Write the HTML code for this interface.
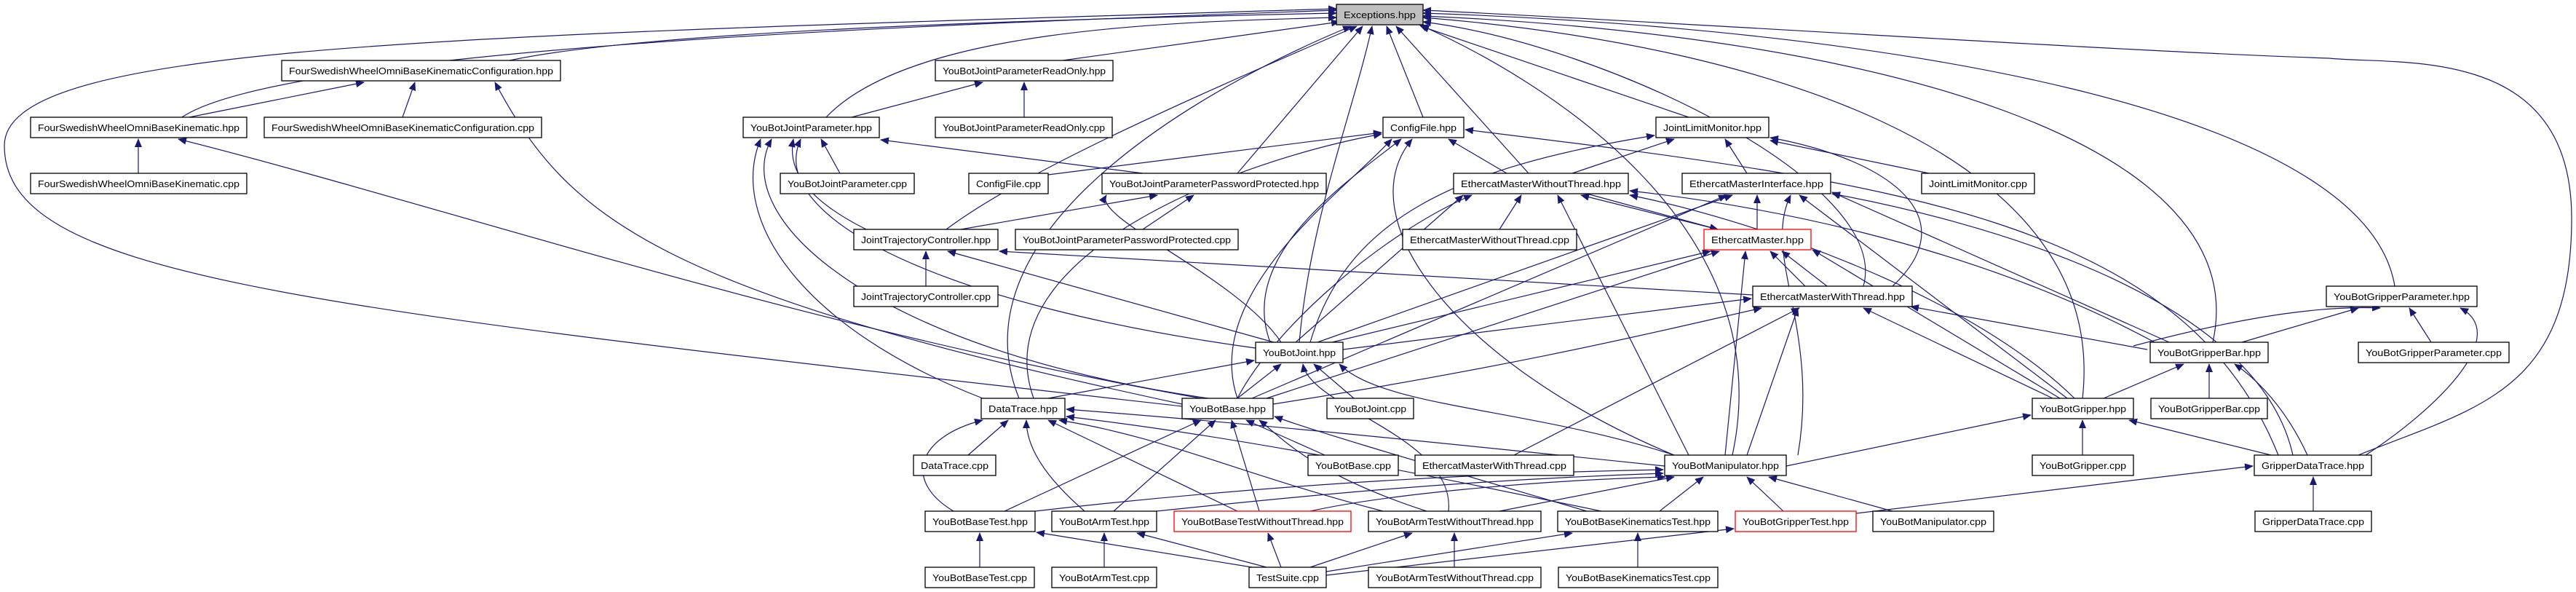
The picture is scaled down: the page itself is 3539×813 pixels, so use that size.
<!DOCTYPE html>
<html><head><meta charset="utf-8"><style>
html,body{margin:0;padding:0;background:#fff;}
svg{display:block}
text{font-family:"Liberation Sans",sans-serif;font-size:13px;fill:#000}
.e{fill:none;stroke:#191970;stroke-width:1.2;marker-end:url(#a)}
.n{fill:#fff;stroke:#000;stroke-width:1.3}
.r{fill:#fff;stroke:#f00;stroke-width:1.3}
</style></head><body>
<svg width="3539" height="813" viewBox="0 0 3539 813" xmlns="http://www.w3.org/2000/svg">
<defs><marker id="a" markerUnits="userSpaceOnUse" markerWidth="12" markerHeight="10" refX="11" refY="5" orient="auto"><path d="M0,0 L12,5 L0,10 z" fill="#191970"/></marker></defs>
<g>
<!-- to Exceptions -->
<path class="e" d="M700,83 C900,40 1500,25 1836,18"/>
<path class="e" d="M250,161 C400,60 1400,30 1836,14"/>
<path class="e" d="M1460,83 L1840,30"/>
<path class="e" d="M1135,161 C1250,40 1600,30 1836,24"/>
<path class="e" d="M1955,161 L1905,36"/>
<path class="e" d="M1700,238 L1872,36"/>
<path class="e" d="M1300,315 C1400,240 1600,150 1864,36"/>
<path class="e" d="M2100,238 L1918,36"/>
<path class="e" d="M2320,161 L1952,36"/>
<path class="e" d="M1785,470 C1800,300 1860,150 1885,36"/>
<path class="e" d="M1400,547 C1300,300 1700,100 1856,36"/>
<path class="e" d="M1624,558 C400,420 6,380 6,200 C6,60 600,50 1836,12"/>
<path class="e" d="M2560,393 C2600,250 2200,60 1955,30"/>
<path class="e" d="M2861,547 C2900,200 2400,60 1955,24"/>
<path class="e" d="M3040,470 C3100,200 2600,50 1955,22"/>
<path class="e" d="M3290,393 C3250,150 2600,40 1955,18"/>
<path class="e" d="M3240,625 C3400,560 3533,540 3533,300 C3533,60 3300,90 3200,80 C2900,70 2300,30 1955,14"/>
<path class="e" d="M2380,625 C2450,300 2100,100 1950,34"/>
<!-- FSW -->
<path class="e" d="M260,161 L500,113"/>
<path class="e" d="M553,161 L570,113"/>
<path class="e" d="M1624,555 C900,400 780,300 680,113"/>
<path class="e" d="M190,238 L190,191"/>
<path class="e" d="M1650,547 C1100,450 600,280 245,191"/>
<!-- ReadOnly / JointParameter -->
<path class="e" d="M1170,161 L1350,113"/>
<path class="e" d="M1407,161 L1407,113"/>
<path class="e" d="M1154,238 L1128,191"/>
<path class="e" d="M1570,238 L1210,192"/>
<path class="e" d="M1190,315 C1120,280 1080,240 1090,191"/>
<path class="e" d="M1725,478 C1300,420 1050,300 1100,191"/>
<path class="e" d="M1350,547 C1100,450 1000,300 1045,191"/>
<path class="e" d="M1660,547 C1200,480 1000,300 1060,191"/>
<!-- ConfigFile -->
<path class="e" d="M1440,240 L1898,182"/>
<path class="e" d="M2070,238 L1990,191"/>
<path class="e" d="M1745,470 C1700,350 1850,250 1925,191"/>
<path class="e" d="M1700,547 C1650,400 1850,260 1912,191"/>
<path class="e" d="M1420,547 C1350,350 1700,220 1898,184"/>
<path class="e" d="M2300,625 C2000,500 1850,300 1940,191"/>
<path class="e" d="M3130,625 C3000,300 2600,250 2013,178"/>
<!-- PasswordProtected -->
<path class="e" d="M1570,315 L1640,268"/>
<path class="e" d="M1320,315 L1590,268"/>
<path class="e" d="M1760,470 C1700,380 1500,300 1520,268"/>
<!-- JTC -->
<path class="e" d="M1272,393 L1272,345"/>
<path class="e" d="M1750,470 L1302,345"/>
<path class="e" d="M2408,405 L1373,345"/>
<!-- JointLimitMonitor -->
<path class="e" d="M2650,238 L2432,193"/>
<path class="e" d="M2160,238 L2300,191"/>
<path class="e" d="M2400,238 L2370,191"/>
<path class="e" d="M2600,393 C2700,300 2600,220 2432,189"/>
<path class="e" d="M1800,470 C1850,300 2000,230 2273,186"/>
<!-- EMWithoutThread -->
<path class="e" d="M2060,315 L2090,268"/>
<path class="e" d="M2360,315 L2172,268"/>
<path class="e" d="M1780,470 L2010,268"/>
<path class="e" d="M1700,547 C1750,450 1900,320 2022,268"/>
<path class="e" d="M2320,625 L2140,268"/>
<path class="e" d="M2850,547 C2700,400 2400,300 2239,268"/>
<path class="e" d="M2960,470 C2700,330 2400,280 2239,262"/>
<!-- EMInterface -->
<path class="e" d="M2414,315 L2414,268"/>
<path class="e" d="M1810,470 L2380,268"/>
<path class="e" d="M1720,547 L2372,268"/>
<path class="e" d="M2470,625 C2500,450 2420,350 2460,268"/>
<path class="e" d="M2840,547 L2472,268"/>
<path class="e" d="M2980,470 L2517,264"/>
<path class="e" d="M3150,625 C3100,400 2700,300 2517,266"/>
<!-- EthercatMaster -->
<path class="e" d="M2180,266 L2360,315"/>
<path class="e" d="M2480,393 L2432,345"/>
<path class="e" d="M2510,393 L2448,345"/>
<path class="e" d="M1830,470 L2350,345"/>
<path class="e" d="M1740,547 L2362,345"/>
<path class="e" d="M2370,625 L2398,345"/>
<path class="e" d="M2830,547 L2490,343"/>
<!-- EMWithThread -->
<path class="e" d="M1845,480 L2406,410"/>
<path class="e" d="M1749,555 C2100,500 2300,450 2420,423"/>
<path class="e" d="M2400,625 L2470,423"/>
<path class="e" d="M2080,625 L2472,423"/>
<path class="e" d="M2820,547 L2560,423"/>
<path class="e" d="M2950,480 L2625,421"/>
<!-- YouBotJoint -->
<path class="e" d="M1440,547 L1723,495"/>
<path class="e" d="M1700,547 L1760,500"/>
<path class="e" d="M1860,547 L1805,500"/>
<path class="e" d="M2300,625 C2100,560 1900,560 1840,500"/>
<path class="e" d="M1990,702 C2000,600 1800,560 1790,500"/>
<!-- Gripper parameter -->
<path class="e" d="M3080,470 L3240,423"/>
<path class="e" d="M3340,470 L3310,423"/>
<path class="e" d="M2931,475 C3100,430 3200,420 3270,423"/>
<path class="e" d="M3250,625 C3350,560 3450,460 3380,423"/>
<!-- GripperBar -->
<path class="e" d="M2890,547 L3000,500"/>
<path class="e" d="M3035,547 L3035,500"/>
<path class="e" d="M3170,625 C3140,560 3100,520 3070,500"/>
<!-- Gripper -->
<path class="e" d="M2861,625 L2861,577"/>
<path class="e" d="M3120,625 L2925,577"/>
<path class="e" d="M2454,640 L2790,570"/>
<!-- DataTrace -->
<path class="e" d="M1330,625 L1385,577"/>
<path class="e" d="M1310,702 C1240,660 1260,600 1350,577"/>
<path class="e" d="M1490,702 C1430,650 1410,610 1410,577"/>
<path class="e" d="M1700,702 L1440,577"/>
<path class="e" d="M1900,702 C1700,650 1600,600 1455,577"/>
<path class="e" d="M2200,702 C1900,640 1700,600 1465,572"/>
<path class="e" d="M2287,640 C1900,600 1700,580 1465,562"/>
<!-- YouBotBase -->
<path class="e" d="M1380,702 L1650,577"/>
<path class="e" d="M1530,702 L1670,577"/>
<path class="e" d="M1730,702 L1692,577"/>
<path class="e" d="M1820,625 L1712,577"/>
<path class="e" d="M1960,702 C1800,650 1760,600 1730,577"/>
<path class="e" d="M2180,702 C1900,620 1800,590 1751,572"/>
<!-- Manipulator -->
<path class="e" d="M1422,702 C1700,670 2000,650 2285,645"/>
<path class="e" d="M1589,702 C1800,680 2000,660 2285,650"/>
<path class="e" d="M1800,702 C1900,680 2100,660 2288,655"/>
<path class="e" d="M2060,702 L2300,655"/>
<path class="e" d="M2280,702 L2340,655"/>
<path class="e" d="M2450,702 L2400,655"/>
<path class="e" d="M2600,702 L2430,655"/>
<!-- GripperDataTrace -->
<path class="e" d="M3178,702 L3178,655"/>
<path class="e" d="M2550,705 L3095,640"/>
<!-- tests -->
<path class="e" d="M1346,779 L1346,732"/>
<path class="e" d="M1720,779 L1424,731"/>
<path class="e" d="M1517,779 L1517,732"/>
<path class="e" d="M1740,779 L1562,732"/>
<path class="e" d="M1760,779 L1742,732"/>
<path class="e" d="M1998,779 L1998,732"/>
<path class="e" d="M1800,779 L1940,732"/>
<path class="e" d="M2250,779 L2250,732"/>
<path class="e" d="M1822,785 L2160,732"/>
<path class="e" d="M1822,790 L2382,726"/>
</g>
<g>
<rect x="1836" y="6" width="119" height="28" fill="#bfbfbf" stroke="#000" stroke-width="1.3"/><text x="1846" y="25" textLength="99" lengthAdjust="spacingAndGlyphs">Exceptions.hpp</text>
<rect class="n" x="387" y="83" width="383" height="28"/><text x="397" y="102" textLength="363" lengthAdjust="spacingAndGlyphs">FourSwedishWheelOmniBaseKinematicConfiguration.hpp</text>
<rect class="n" x="42" y="161" width="297" height="28"/><text x="52" y="180" textLength="277" lengthAdjust="spacingAndGlyphs">FourSwedishWheelOmniBaseKinematic.hpp</text>
<rect class="n" x="363" y="161" width="381" height="28"/><text x="373" y="180" textLength="361" lengthAdjust="spacingAndGlyphs">FourSwedishWheelOmniBaseKinematicConfiguration.cpp</text>
<rect class="n" x="42" y="238" width="297" height="28"/><text x="52" y="257" textLength="277" lengthAdjust="spacingAndGlyphs">FourSwedishWheelOmniBaseKinematic.cpp</text>
<rect class="n" x="1285" y="83" width="244" height="28"/><text x="1295" y="102" textLength="224" lengthAdjust="spacingAndGlyphs">YouBotJointParameterReadOnly.hpp</text>
<rect class="n" x="1285" y="161" width="243" height="28"/><text x="1295" y="180" textLength="223" lengthAdjust="spacingAndGlyphs">YouBotJointParameterReadOnly.cpp</text>
<rect class="n" x="1021" y="161" width="187" height="28"/><text x="1031" y="180" textLength="167" lengthAdjust="spacingAndGlyphs">YouBotJointParameter.hpp</text>
<rect class="n" x="1072" y="238" width="184" height="28"/><text x="1082" y="257" textLength="164" lengthAdjust="spacingAndGlyphs">YouBotJointParameter.cpp</text>
<rect class="n" x="1331" y="238" width="109" height="28"/><text x="1341" y="257" textLength="89" lengthAdjust="spacingAndGlyphs">ConfigFile.cpp</text>
<rect class="n" x="1514" y="238" width="308" height="28"/><text x="1524" y="257" textLength="288" lengthAdjust="spacingAndGlyphs">YouBotJointParameterPasswordProtected.hpp</text>
<rect class="n" x="1173" y="315" width="198" height="28"/><text x="1183" y="334" textLength="178" lengthAdjust="spacingAndGlyphs">JointTrajectoryController.hpp</text>
<rect class="n" x="1395" y="315" width="306" height="28"/><text x="1405" y="334" textLength="286" lengthAdjust="spacingAndGlyphs">YouBotJointParameterPasswordProtected.cpp</text>
<rect class="n" x="1173" y="393" width="198" height="28"/><text x="1183" y="412" textLength="178" lengthAdjust="spacingAndGlyphs">JointTrajectoryController.cpp</text>
<rect class="n" x="1900" y="161" width="111" height="28"/><text x="1910" y="180" textLength="91" lengthAdjust="spacingAndGlyphs">ConfigFile.hpp</text>
<rect class="n" x="2275" y="161" width="155" height="28"/><text x="2285" y="180" textLength="135" lengthAdjust="spacingAndGlyphs">JointLimitMonitor.hpp</text>
<rect class="n" x="1997" y="238" width="240" height="28"/><text x="2007" y="257" textLength="220" lengthAdjust="spacingAndGlyphs">EthercatMasterWithoutThread.hpp</text>
<rect class="n" x="2311" y="238" width="204" height="28"/><text x="2321" y="257" textLength="184" lengthAdjust="spacingAndGlyphs">EthercatMasterInterface.hpp</text>
<rect class="n" x="2640" y="238" width="155" height="28"/><text x="2650" y="257" textLength="135" lengthAdjust="spacingAndGlyphs">JointLimitMonitor.cpp</text>
<rect class="n" x="1927" y="315" width="239" height="28"/><text x="1937" y="334" textLength="219" lengthAdjust="spacingAndGlyphs">EthercatMasterWithoutThread.cpp</text>
<rect class="r" x="2341" y="315" width="147" height="28"/><text x="2351" y="334" textLength="127" lengthAdjust="spacingAndGlyphs">EthercatMaster.hpp</text>
<rect class="n" x="2408" y="393" width="219" height="28"/><text x="2418" y="412" textLength="199" lengthAdjust="spacingAndGlyphs">EthercatMasterWithThread.hpp</text>
<rect class="n" x="3196" y="393" width="207" height="28"/><text x="3206" y="412" textLength="187" lengthAdjust="spacingAndGlyphs">YouBotGripperParameter.hpp</text>
<rect class="n" x="1725" y="470" width="120" height="28"/><text x="1735" y="489" textLength="100" lengthAdjust="spacingAndGlyphs">YouBotJoint.hpp</text>
<rect class="n" x="2954" y="470" width="162" height="28"/><text x="2964" y="489" textLength="142" lengthAdjust="spacingAndGlyphs">YouBotGripperBar.hpp</text>
<rect class="n" x="3240" y="470" width="207" height="28"/><text x="3250" y="489" textLength="187" lengthAdjust="spacingAndGlyphs">YouBotGripperParameter.cpp</text>
<rect class="n" x="1348" y="547" width="115" height="28"/><text x="1358" y="566" textLength="95" lengthAdjust="spacingAndGlyphs">DataTrace.hpp</text>
<rect class="n" x="1624" y="547" width="125" height="28"/><text x="1634" y="566" textLength="105" lengthAdjust="spacingAndGlyphs">YouBotBase.hpp</text>
<rect class="n" x="1823" y="547" width="119" height="28"/><text x="1833" y="566" textLength="99" lengthAdjust="spacingAndGlyphs">YouBotJoint.cpp</text>
<rect class="n" x="2792" y="547" width="139" height="28"/><text x="2802" y="566" textLength="119" lengthAdjust="spacingAndGlyphs">YouBotGripper.hpp</text>
<rect class="n" x="2955" y="547" width="160" height="28"/><text x="2965" y="566" textLength="140" lengthAdjust="spacingAndGlyphs">YouBotGripperBar.cpp</text>
<rect class="n" x="1255" y="625" width="113" height="28"/><text x="1265" y="644" textLength="93" lengthAdjust="spacingAndGlyphs">DataTrace.cpp</text>
<rect class="n" x="1797" y="625" width="124" height="28"/><text x="1807" y="644" textLength="104" lengthAdjust="spacingAndGlyphs">YouBotBase.cpp</text>
<rect class="n" x="1944" y="625" width="218" height="28"/><text x="1954" y="644" textLength="198" lengthAdjust="spacingAndGlyphs">EthercatMasterWithThread.cpp</text>
<rect class="n" x="2287" y="625" width="167" height="28"/><text x="2297" y="644" textLength="147" lengthAdjust="spacingAndGlyphs">YouBotManipulator.hpp</text>
<rect class="n" x="2792" y="625" width="139" height="28"/><text x="2802" y="644" textLength="119" lengthAdjust="spacingAndGlyphs">YouBotGripper.cpp</text>
<rect class="n" x="3097" y="625" width="161" height="28"/><text x="3107" y="644" textLength="141" lengthAdjust="spacingAndGlyphs">GripperDataTrace.hpp</text>
<rect class="n" x="1271" y="702" width="151" height="28"/><text x="1281" y="721" textLength="131" lengthAdjust="spacingAndGlyphs">YouBotBaseTest.hpp</text>
<rect class="n" x="1445" y="702" width="144" height="28"/><text x="1455" y="721" textLength="124" lengthAdjust="spacingAndGlyphs">YouBotArmTest.hpp</text>
<rect class="r" x="1613" y="702" width="243" height="28"/><text x="1623" y="721" textLength="223" lengthAdjust="spacingAndGlyphs" style="fill:#000">YouBotBaseTestWithoutThread.hpp</text>
<rect class="n" x="1880" y="702" width="237" height="28"/><text x="1890" y="721" textLength="217" lengthAdjust="spacingAndGlyphs">YouBotArmTestWithoutThread.hpp</text>
<rect class="n" x="2140" y="702" width="220" height="28"/><text x="2150" y="721" textLength="200" lengthAdjust="spacingAndGlyphs">YouBotBaseKinematicsTest.hpp</text>
<rect class="r" x="2384" y="702" width="166" height="28"/><text x="2394" y="721" textLength="146" lengthAdjust="spacingAndGlyphs">YouBotGripperTest.hpp</text>
<rect class="n" x="2573" y="702" width="166" height="28"/><text x="2583" y="721" textLength="146" lengthAdjust="spacingAndGlyphs">YouBotManipulator.cpp</text>
<rect class="n" x="3098" y="702" width="160" height="28"/><text x="3108" y="721" textLength="140" lengthAdjust="spacingAndGlyphs">GripperDataTrace.cpp</text>
<rect class="n" x="1271" y="779" width="150" height="28"/><text x="1281" y="798" textLength="130" lengthAdjust="spacingAndGlyphs">YouBotBaseTest.cpp</text>
<rect class="n" x="1445" y="779" width="144" height="28"/><text x="1455" y="798" textLength="124" lengthAdjust="spacingAndGlyphs">YouBotArmTest.cpp</text>
<rect class="n" x="1716" y="779" width="106" height="28"/><text x="1726" y="798" textLength="86" lengthAdjust="spacingAndGlyphs">TestSuite.cpp</text>
<rect class="n" x="1880" y="779" width="237" height="28"/><text x="1890" y="798" textLength="217" lengthAdjust="spacingAndGlyphs">YouBotArmTestWithoutThread.cpp</text>
<rect class="n" x="2141" y="779" width="219" height="28"/><text x="2151" y="798" textLength="199" lengthAdjust="spacingAndGlyphs">YouBotBaseKinematicsTest.cpp</text>
</g>
</svg>
</body></html>
